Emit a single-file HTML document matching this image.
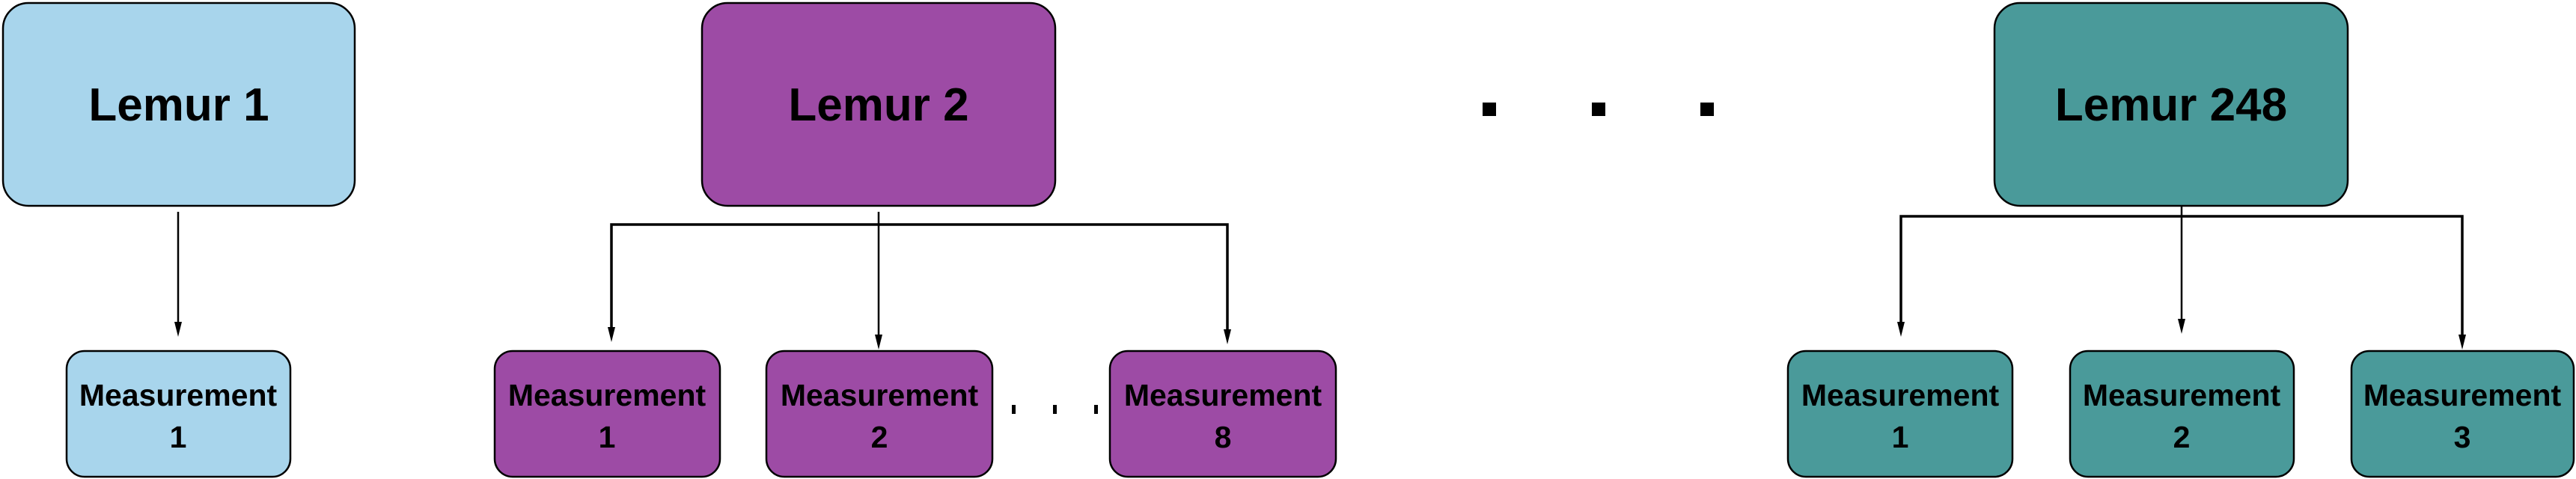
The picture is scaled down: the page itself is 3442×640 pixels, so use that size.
<!DOCTYPE html>
<html><head><style>
html,body{margin:0;padding:0;background:#fff;width:3442px;height:640px;overflow:hidden}
text{font-family:"Liberation Sans",sans-serif;font-weight:bold;fill:#000;text-anchor:middle}
</style></head><body>
<svg width="3442" height="640" viewBox="0 0 3442 640" xmlns="http://www.w3.org/2000/svg">
<g stroke="#000" stroke-width="2.5">
<rect x="4" y="4" width="470" height="271" rx="34" fill="#a8d5ec"/>
<rect x="938" y="4" width="472" height="271" rx="34" fill="#9d4ba5"/>
<rect x="2665" y="4" width="472" height="271" rx="34" fill="#4a9a9a"/>
<rect x="89" y="469" width="299" height="168" rx="24" fill="#a8d5ec"/>
<rect x="661" y="469" width="301" height="168" rx="24" fill="#9d4ba5"/>
<rect x="1024" y="469" width="302" height="168" rx="24" fill="#9d4ba5"/>
<rect x="1483" y="469" width="302" height="168" rx="24" fill="#9d4ba5"/>
<rect x="2389" y="469" width="300" height="168" rx="24" fill="#4a9a9a"/>
<rect x="2766" y="469" width="299" height="168" rx="24" fill="#4a9a9a"/>
<rect x="3142" y="469" width="297" height="168" rx="24" fill="#4a9a9a"/>
</g>
<g stroke="#000" stroke-width="2.5" fill="none">
<line x1="238" y1="283" x2="238" y2="432"/>
<line x1="1174" y1="283" x2="1174" y2="300"/>
<polyline points="817,440 817,300 1640,300 1640,442" stroke-width="3.5"/>
<line x1="1174" y1="300" x2="1174" y2="449"/>
<line x1="2915" y1="276" x2="2915" y2="289"/>
<polyline points="2540,432 2540,289 3290,289 3290,449" stroke-width="3.5"/>
<line x1="2915" y1="289" x2="2915" y2="428"/>
</g>
<g fill="#000">
<path d="M233,430 L243,430 L238,450 Z"/>
<path d="M812,437 L822,437 L817,457 Z"/>
<path d="M1169,447 L1179,447 L1174,467 Z"/>
<path d="M1635,440 L1645,440 L1640,460 Z"/>
<path d="M2535,430 L2545,430 L2540,450 Z"/>
<path d="M2910,426 L2920,426 L2915,446 Z"/>
<path d="M3285,447 L3295,447 L3290,467 Z"/>
<rect x="1981" y="137" width="18" height="18"/>
<rect x="2127" y="137" width="18" height="18"/>
<rect x="2272" y="137" width="18" height="18"/>
<rect x="1352" y="541" width="5" height="12"/>
<rect x="1407" y="541" width="5" height="12"/>
<rect x="1462" y="541" width="5" height="12"/>
</g>
<g font-size="62">
<text x="239" y="161">Lemur 1</text>
<text x="1174" y="161">Lemur 2</text>
<text x="2901" y="161">Lemur 248</text>
</g>
<g font-size="41">
<text x="238" y="542">Measurement</text><text x="238" y="598">1</text>
<text x="811" y="542">Measurement</text><text x="811" y="598">1</text>
<text x="1175" y="542">Measurement</text><text x="1175" y="598">2</text>
<text x="1634" y="542">Measurement</text><text x="1634" y="598">8</text>
<text x="2539" y="542">Measurement</text><text x="2539" y="598">1</text>
<text x="2915" y="542">Measurement</text><text x="2915" y="598">2</text>
<text x="3290" y="542">Measurement</text><text x="3290" y="598">3</text>
</g>
</svg>
</body></html>
